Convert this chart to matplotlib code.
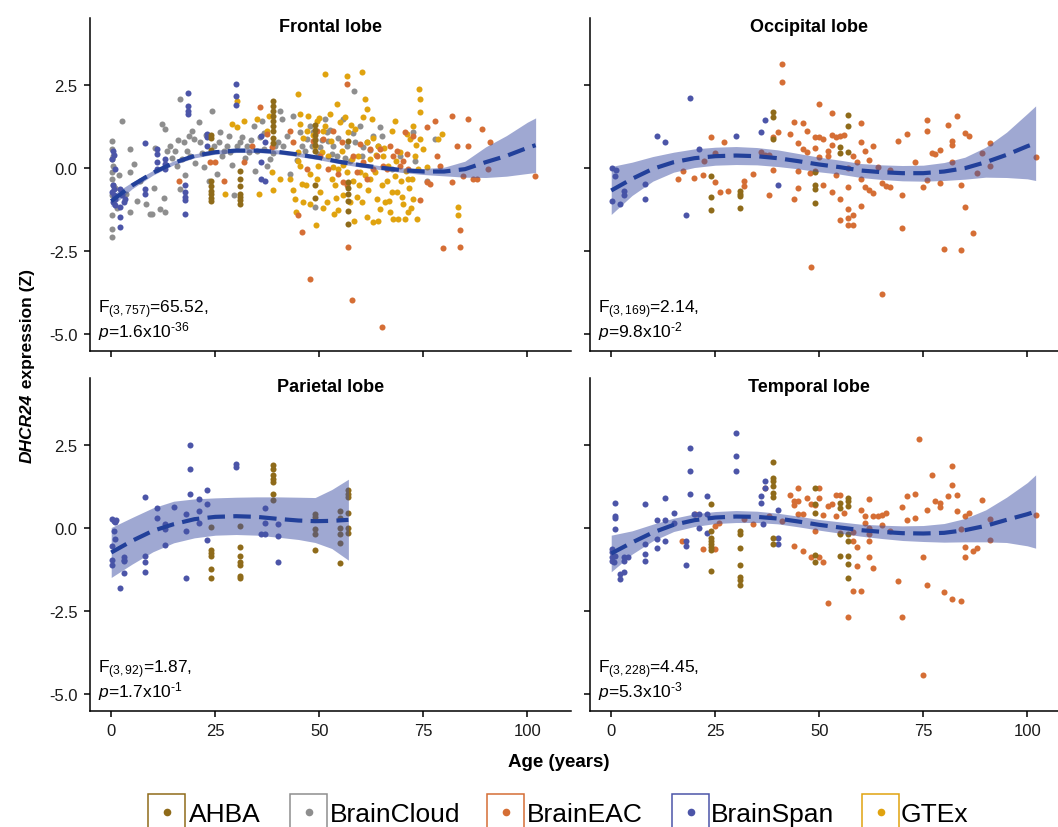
import numpy as np
import matplotlib.pyplot as plt
from matplotlib.patches import Rectangle
from matplotlib.lines import Line2D

plt.rcParams['font.family'] = 'Liberation Sans'
plt.rcParams['axes.unicode_minus'] = False
plt.rcParams['mathtext.fontset'] = 'custom'
plt.rcParams['mathtext.rm'] = 'Liberation Sans'
plt.rcParams['mathtext.it'] = 'Liberation Sans:italic'
plt.rcParams['mathtext.bf'] = 'Liberation Sans:bold'

datasets = ['AHBA', 'BrainCloud', 'BrainEAC', 'BrainSpan', 'GTEx']
colors = ['#8F6B1A', '#8E8E8E', '#D56E35', '#4C55A8', '#E0A30F']

# ---------------- Frontal lobe ----------------
frontal_span_age = [0.4, 0.6, 0.3, 0.8, 0.4, 0.7, 0.3, 0.6, 0.9, 0.5, 0.8, 2.0, 2.6, 3.0, 2.2, 2.0, 2.0, 3.2,
                    8, 8, 8, 11, 11, 11, 11, 13, 13, 13, 18.5, 18.5, 18.5, 18.5, 17.8, 17.8, 17.8, 17.8, 17.8,
                    23, 23, 23, 30, 30, 30, 36, 36, 36, 37, 37]
frontal_span_z = [0.50, 0.40, 0.27, -0.03, -0.53, -0.63, -0.73, -0.83, -0.93, -1.03, -1.13, -0.63, -0.83, -1.03,
                  -1.18, -1.48, -1.78, -0.93, 0.75, -0.63, -0.78, 0.57, 0.42, 0.17, -0.03, 0.27, 0.12, -0.03,
                  2.24, 1.87, 1.72, 1.62, -0.53, -0.73, -0.88, -0.98, -1.38, 1.02, 0.92, 0.67, 2.52, 2.17, 1.89,
                  0.97, 0.17, -0.33, 0.77, -0.38]
frontal_ahba_age = [24] * 9 + [31] * 7 + [39] * 9 + [49] * 8 + [57] * 7
frontal_ahba_z = [1.0, 0.9, 0.55, -0.4, -0.55, -0.7, -0.8, -0.9, -1.0,
                  -0.08, -0.33, -0.55, -0.78, -0.88, -0.98, -1.08,
                  2.0, 1.85, 1.7, 1.55, 1.4, 1.25, 1.1, 0.9, 0.75,
                  1.3, 1.15, 1.0, 0.85, 0.7, 0.5, -0.5, -0.9,
                  0.8, -0.43, -0.6, -0.8, -1.0, -1.3, -1.7]
frontal_cloud_age = [0.2, 0.3, 0.4, 0.2, 0.5, 0.3, 0.2, 0.4, 0.3, 0.2, 0.3, 0.2,
                     2.6, 4.6, 4.6, 4.6, 5.4, 9.2, 12.2, 13.0, 13.0, 13.4, 14.2, 15.4, 15.8, 16.6, 16.6, 17.0,
                     17.4, 18.2, 19.0, 19.4, 19.8, 21.0, 21.4, 22.3, 24.2, 24.6, 25.4, 25.8, 26.2, 27.0, 27.8,
                     28.6, 29.4, 30.2, 31.0, 31.4, 32.6, 33.0, 34.2, 35.0, 35.8, 36.2, 36.6, 37.4, 38.2, 39.4,
                     40.2, 40.6, 41.0, 41.4, 43.0, 43.8, 45.4, 45.8, 47.0, 47.8, 48.2, 48.6, 49.0, 49.0, 49.8,
                     50.2, 51.4, 51.8, 52.2, 53.0, 53.4, 54.2, 55.8, 56.6, 57.4, 58.3, 58.6, 59.8, 60.6, 61.4,
                     63.0, 64.2, 64.6, 65.0, 67.4, 69.4, 72.6, 73.0, 75.8, 77.8,
                     14.6, 16.0, 17.8, 18.6, 20.2, 21.8, 22.8, 23.4, 26.6, 28.2, 29.0, 32.2, 33.6, 34.6, 36.8,
                     38.8, 42.2, 44.6, 46.6, 50.6, 52.6, 54.6, 56.2, 58.0, 60.2, 62.2, 1.0, 1.4, 1.8, 3.6, 6.2,
                     7.0, 9.8, 10.6, 12.6, 8.4, 10.2, 11.8]
frontal_cloud_z = [0.82, 0.57, 0.37, 0.27, 0.07, -0.13, -0.33, -0.53, -0.83, -1.43, -1.83, -2.08,
                   1.42, 0.57, -0.13, -1.33, 0.12, -1.38, 1.32, 1.17, -1.33, 0.52, 0.67, 0.52, 0.07, 2.07, -0.63,
                   0.27, 0.77, 0.52, 0.37, 1.12, 0.87, 1.37, 0.77, 0.02, 1.72, 0.67, -0.18, 0.77, 1.07, 0.52,
                   0.67, 0.47, -0.83, 0.67, 0.77, 0.92, 0.67, 0.47, 1.27, 0.52, 0.92, 1.42, 0.57, 0.07, 0.27,
                   0.67, 0.77, 1.72, 1.47, 0.67, -0.18, 1.57, 1.07, 0.67, 0.87, 1.27, 0.67, 1.07, 0.87, -1.18,
                   0.42, 0.62, 1.47, 1.07, 0.82, 0.42, 0.67, 0.37, 1.47, 0.67, 0.22, 2.32, 0.77, 1.27, 0.62,
                   0.77, 0.97, 0.67, 1.22, 0.97, -0.03, 0.37, 1.07, 0.22, -0.38, 0.87,
                   0.30, 0.85, -0.20, 0.95, 0.15, 0.45, 1.00, -0.40, 0.35, 0.95, 0.10, 0.30, 0.85, -0.10, 1.05,
                   0.45, 0.95, 0.25, 0.50, 0.85, 1.15, 0.90, 0.30, 1.05, 0.35, 0.55, -0.60, -1.20, -0.20, -0.80,
                   -1.00, -0.40, -1.40, 0.60, -0.90, -1.10, -0.60, -1.25]
frontal_gtex_age = [29.0, 30.2, 30.2, 27.4, 31.8, 35.0, 35.4, 37.4, 37.8, 38.6, 39.0, 40.6, 43.0, 43.8, 44.2, 44.4,
                    45.0, 45.0, 45.4, 45.4, 45.4, 45.8, 46.2, 47.0, 47.4, 47.8, 47.8, 49.0, 49.2, 49.4, 49.5,
                    49.8, 50.2, 50.6, 51.0, 51.4, 51.4, 51.8, 52.2, 52.6, 53.0, 53.4, 53.8, 54.2, 54.6, 54.6,
                    55.0, 55.4, 55.8, 56.2, 56.6, 56.6, 57.0, 57.4, 57.8, 58.2, 58.6, 59.0, 59.4, 59.8, 60.2,
                    60.2, 60.6, 61.0, 61.4, 61.4, 61.5, 61.8, 62.2, 62.3, 62.6, 63.0, 63.4, 63.8, 64.2, 64.6,
                    65.0, 65.4, 65.8, 66.2, 66.6, 67.0, 67.4, 67.8, 68.2, 68.2, 68.6, 69.0, 69.4, 69.8, 70.2,
                    70.6, 71.0, 71.4, 71.4, 71.8, 72.2, 72.6, 72.6, 73.0, 73.4, 73.8, 74.0, 74.2, 74.2, 74.3,
                    75.0, 75.8, 78.6, 79.4, 83.4, 83.4,
                    44.8, 46.8, 48.4, 50.8, 52.8, 54.0, 55.6, 57.6, 59.6, 61.0, 62.8, 64.0, 65.6, 66.8, 68.4,
                    69.6, 70.8, 72.0, 73.2, 46.0, 50.0, 53.6, 58.4, 63.6, 67.6, 71.6]
frontal_gtex_z = [1.32, 2.02, 1.22, -0.78, 1.42, 1.47, -0.78, 1.12, 1.57, -0.13, -0.68, -0.33, -0.33, -0.68,
                  -0.93, -1.33, 2.22, 0.47, 1.62, 1.32, 0.07, -0.48, -1.03, 1.12, 1.57, -0.18, -1.08, 0.67,
                  -1.73, 1.42, -0.33, 0.07, -0.73, 0.47, 1.12, 2.82, 1.27, -1.03, 0.37, 1.62, -0.33, 0.02,
                  -0.53, 1.92, -0.03, -1.28, 1.37, 0.52, -0.83, 1.52, 2.77, -0.13, 1.07, -1.03, 0.27, -0.38,
                  1.17, -0.88, 0.37, -0.13, 2.87, -1.03, 1.52, 2.07, 1.77, 0.77, -1.48, -0.68, 0.27, -0.33,
                  1.47, -1.63, -0.13, -0.93, 0.67, -1.23, -0.53, 0.37, -1.03, -0.38, 0.07, -1.33, -0.73, -1.53,
                  1.42, -0.23, -0.73, -1.53, 0.47, -0.88, -1.08, -1.53, 1.02, -0.33, -1.33, 0.87, -0.33, 1.27,
                  -0.93, 0.37, -1.53, -0.03, 2.37, 2.07, 1.67, 0.87, 0.57, 0.02, 0.87, 1.02, -1.18, -1.43,
                  0.20, -0.50, 1.00, -1.20, 0.80, -0.90, 0.10, 1.30, -0.50, -0.20, 0.90, -1.60, 0.60, -1.00,
                  0.20, -0.40, -0.10, -1.20, 0.70, 0.90, 1.50, -1.40, -1.60, 0.40, 1.10, -0.60]
frontal_eac_age = [16.2, 23.8, 25.0, 27.0, 31.8, 33.8, 35.8, 37.4, 38.6, 43.0, 43.8, 45.0, 45.8, 47.0, 47.8, 48.6,
                   49.4, 50.2, 51.0, 52.2, 53.4, 54.6, 55.4, 55.8, 56.6, 56.6, 57.0, 57.8, 58.2, 59.0, 59.8,
                   60.6, 61.4, 62.2, 63.0, 63.8, 64.6, 65.0, 65.4, 66.2, 67.0, 67.8, 68.6, 69.4, 70.2, 70.6,
                   71.0, 71.4, 72.6, 74.2, 75.8, 75.8, 76.6, 77.8, 78.2, 79.0, 79.8, 81.8, 81.8, 83.0, 83.8,
                   83.8, 84.6, 85.8, 85.8, 87.0, 87.8, 89.0, 90.6, 91.0, 101.8]
frontal_eac_z = [-0.38, 0.17, 0.17, -0.38, 0.17, 0.67, 1.82, 1.02, 0.62, 1.12, 0.77, -1.43, -1.93, -0.03, -3.33,
                 0.82, 1.12, 0.37, 0.87, -0.03, 1.12, -0.18, 0.77, -0.43, 2.52, -0.53, -2.38, -3.98, 0.37, -0.13,
                 0.72, 0.17, -0.33, 0.57, -0.03, 0.37, 0.57, -4.78, 0.07, -0.03, 0.67, 0.37, 0.52, 0.07, 0.22,
                 1.07, 0.42, -0.03, 0.97, -0.98, 1.22, -0.43, -0.48, 1.42, 0.37, 0.07, -2.41, 1.55, -0.43, 0.67,
                 -1.88, -2.38, -0.23, 1.47, 0.67, -0.33, -0.33, 1.17, -0.03, 0.77, -0.23]
frontal_fit_age = [0, 5, 10, 15, 20, 25, 30, 35, 40, 45, 50, 55, 60, 65, 70, 75, 80, 85, 90, 95, 100, 102]
frontal_fit_z = [-1.0, -0.53, -0.15, 0.15, 0.36, 0.47, 0.52, 0.52, 0.48, 0.40, 0.30, 0.18, 0.08, 0.0, -0.07,
                 -0.11, -0.11, -0.04, 0.17, 0.36, 0.60, 0.68]
frontal_fit_lo = [-1.17, -0.63, -0.22, 0.09, 0.30, 0.41, 0.46, 0.46, 0.42, 0.34, 0.24, 0.12, 0.02, -0.06, -0.14,
                  -0.20, -0.24, -0.28, -0.29, -0.25, -0.17, -0.14]
frontal_fit_hi = [-0.83, -0.43, -0.08, 0.21, 0.42, 0.53, 0.58, 0.58, 0.54, 0.46, 0.36, 0.24, 0.14, 0.06, 0.00,
                  -0.02, 0.02, 0.20, 0.63, 0.97, 1.37, 1.50]

# ---------------- Occipital lobe ----------------
occipital_span_age = [0.3, 1.1, 1.0, 0.3, 2.0, 3.0, 3.1, 8.0, 8.2, 11.1, 13.0, 18.0, 19.0, 21.0, 30.0, 36.0, 37.0, 40.0]
occipital_span_z = [-0.01, -0.05, -0.23, -1.01, -1.08, -0.71, -0.81, -0.48, -0.95, 0.95, 0.77, -1.41, 2.09, 0.57,
                    0.97, 1.09, 1.45, -0.53]
occipital_ahba_age = [24, 24, 24, 31, 31, 31, 31, 39, 39, 39, 49, 49, 49, 49, 55, 55, 57, 57, 57]
occipital_ahba_z = [-0.25, -0.88, -1.26, -0.71, -0.78, -0.86, -1.2, 1.67, 1.52, 0.87, -0.13, -0.53, -0.63, -1.05,
                    0.64, 0.45, 1.6, 1.27, 0.47]
occipital_eac_age = [16.0, 17.2, 20.0, 22.0, 22.2, 24.0, 25.0, 25.0, 26.1, 27.0, 28.1, 32.0, 32.0, 34.0, 36.0, 37.0,
                     38.0, 38.0, 39.0, 39.0, 40.1, 41.0, 41.0, 43.0, 44.0, 44.0, 45.0, 45.0, 45.0, 46.0, 46.0,
                     47.0, 47.0, 47.8, 48.0, 49.0, 49.0, 49.0, 50.0, 50.0, 50.0, 51.0, 51.0, 52.0, 52.0, 53.0,
                     53.0, 53.0, 53.0, 54.0, 54.0, 55.0, 55.0, 55.0, 56.0, 57.0, 57.0, 57.0, 57.0, 57.0, 58.0,
                     58.0, 58.0, 59.0, 60.0, 60.0, 60.0, 60.0, 61.0, 61.0, 62.0, 62.0, 63.0, 63.0, 64.0, 65.0,
                     65.0, 66.0, 67.0, 67.0, 69.0, 70.0, 70.0, 71.0, 73.0, 75.0, 75.9, 75.9, 75.9, 77.0, 77.9,
                     79.0, 79.0, 80.0, 81.0, 81.9, 81.9, 81.9, 83.0, 84.0, 84.0, 85.0, 85.0, 86.0, 87.0, 88.0,
                     89.0, 91.0, 91.0, 102.0]
occipital_eac_z = [-0.33, -0.10, -0.30, -0.20, 0.22, 0.94, 0.44, -0.43, -0.73, 0.79, -0.69, -0.38, -0.56, -0.17,
                   0.49, 0.40, 0.40, -0.81, 0.94, -0.05, 1.07, 3.13, 2.59, 1.02, 1.37, -0.95, 0.74, -0.08, -0.60,
                   1.34, 0.57, 1.10, 0.47, -0.16, -2.98, 0.94, 0.60, -0.10, 1.91, 0.94, 0.32, 0.87, -0.50, 0.52,
                   0.37, 1.64, 0.99, 0.70, -0.73, 0.94, -0.20, 0.97, -0.93, -1.58, 0.99, -0.01, -0.58, -1.23,
                   -1.50, -1.71, 0.37, -1.41, -1.71, 0.19, 1.34, 0.79, -0.33, -1.16, 0.52, -0.58, 0.25, -0.68,
                   0.67, -0.76, 0.02, -0.45, -3.80, -0.56, -0.06, -0.58, 0.80, -0.83, -1.81, 1.02, 0.19, -0.58,
                   1.44, 1.12, -0.36, 0.44, 0.42, 0.55, -0.46, -2.43, 1.29, 0.80, 0.70, 0.17, 1.55, -0.50, -2.48,
                   1.04, -1.18, 0.97, -1.95, -0.15, 0.45, 0.74, 0.07, 0.32]
occipital_fit_age = frontal_fit_age
occipital_fit_z = [-0.68, -0.33, -0.03, 0.17, 0.29, 0.35, 0.37, 0.35, 0.29, 0.20, 0.10, 0.02, -0.08, -0.13, -0.16,
                   -0.16, -0.11, -0.01, 0.17, 0.39, 0.65, 0.74]
occipital_fit_lo = [-1.40, -0.83, -0.40, -0.13, 0.01, 0.08, 0.10, 0.09, 0.04, -0.03, -0.12, -0.19, -0.29, -0.35,
                    -0.39, -0.40, -0.38, -0.34, -0.28, -0.29, -0.33, -0.38]
occipital_fit_hi = [0.04, 0.17, 0.34, 0.47, 0.57, 0.62, 0.64, 0.61, 0.54, 0.43, 0.32, 0.23, 0.13, 0.09, 0.07, 0.08,
                    0.16, 0.32, 0.62, 1.07, 1.63, 1.86]

# ---------------- Parietal lobe ----------------
parietal_span_age = [0.3, 0.6, 1.0, 1.2, 0.6, 0.8, 0.3, 0.3, 0.3, 3.0, 3.0, 3.1, 3.0, 2.0, 8, 8, 8, 8, 11, 11, 13,
                     13, 13, 15, 18, 18, 18, 19, 19, 19, 21, 21, 21, 23, 23, 23, 30, 30, 36, 37, 37, 37, 40, 40, 40]
parietal_span_z = [0.26, 0.21, 0.19, 0.23, -0.09, -0.34, -0.54, -0.96, -1.12, -0.89, -0.97, -1.01, -1.36, -1.82,
                   0.93, -0.86, -1.02, -1.34, 0.61, 0.31, 0.11, -0.04, -0.52, 0.64, 0.41, -0.09, -1.51, 2.49, 1.78,
                   1.01, 0.86, 0.51, 0.14, 1.13, 0.73, -0.36, 1.91, 1.83, -0.19, 0.61, 0.14, -0.19, 0.11, -0.24,
                   -1.04]
parietal_ahba_age = [24] * 6 + [31] * 7 + [39] * 7 + [49] * 5 + [55] * 6 + [57] * 6
parietal_ahba_z = [0.04, -0.66, -0.76, -0.86, -1.24, -1.52,
                   0.06, -0.57, -0.84, -1.02, -1.12, -1.44, -1.51,
                   1.88, 1.78, 1.58, 1.48, 1.38, 1.01, 0.83,
                   0.43, 0.33, -0.04, -0.17, -0.67,
                   0.51, 0.31, 0.01, -0.17, -0.44, -1.07,
                   1.13, 1.03, 0.93, 0.46, 0.01, -0.14]
parietal_fit_age = [0, 5, 10, 15, 20, 25, 30, 35, 40, 45, 49, 53, 57]
parietal_fit_z = [-0.74, -0.39, -0.09, 0.11, 0.26, 0.33, 0.35, 0.33, 0.27, 0.22, 0.20, 0.21, 0.24]
parietal_fit_lo = [-1.49, -1.09, -0.72, -0.45, -0.30, -0.22, -0.20, -0.22, -0.28, -0.35, -0.44, -0.62, -0.97]
parietal_fit_hi = [0.01, 0.31, 0.60, 0.80, 0.87, 0.90, 0.92, 0.93, 0.93, 0.92, 0.91, 1.15, 1.46]

# ---------------- Temporal lobe ----------------
temporal_span_age = [0.3, 0.3, 0.3, 0.3, 0.6, 1.0, 1.0, 1.0, 1.0, 1.0, 2.0, 2.0, 3.0, 3.0, 3.1, 4.0, 8, 8, 8, 8,
                     11, 11, 11, 13, 13, 13, 15, 15, 18, 18, 18, 19, 19, 19, 20, 21, 21, 23, 23, 23, 30, 30, 30,
                     36, 36, 36.4, 37, 37, 40, 40, 40]
temporal_span_z = [-0.64, -0.74, -0.89, -0.99, -1.04, -0.84, 0.31, 0.36, 0.74, -0.04, -1.39, -1.54, -0.89, -0.99,
                   -1.34, -0.89, 0.71, -0.79, -0.99, -0.49, 0.24, -0.34, -0.61, 0.91, 0.24, -0.39, 0.46, 0.16,
                   -0.39, -0.54, -1.11, 2.41, 1.71, 1.01, 0.41, 0.41, 0.01, 0.96, 0.41, -0.14, 2.86, 2.16, 1.71,
                   0.96, 0.76, 0.11, 1.41, 1.21, 0.53, -0.29, -0.49]
temporal_ahba_age = [24] * 8 + [31] * 7 + [39] * 8 + [49] * 5 + [55] * 4 + [57] * 8
temporal_ahba_z = [0.73, -0.09, -0.29, -0.39, -0.49, -0.59, -0.66, -1.29,
                   -0.09, -0.19, -0.62, -1.12, -1.47, -1.57, -1.71,
                   1.98, 1.51, 1.41, 1.26, 1.06, 0.93, -0.29, -0.49,
                   1.21, 0.71, 0.46, -0.81, -1.04,
                   0.76, 0.61, -0.19, -0.84,
                   0.89, 0.81, 0.66, -0.19, -0.39, -0.84, -1.09, -1.51]
temporal_eac_age = [17.0, 20.2, 22.0, 25.0, 25.0, 26.0, 32.0, 34.0, 37.0, 38.0, 41.0, 43.0, 44.0, 44.0, 44.0, 45.0,
                    45.0, 45.0, 46.0, 46.0, 47.0, 48.0, 48.0, 49.0, 49.0, 50.0, 50.0, 50.0, 51.0, 51.0, 52.0,
                    52.0, 53.0, 54.0, 54.0, 55.0, 55.0, 56.0, 57.0, 58.0, 58.0, 58.0, 59.0, 59.0, 60.0, 60.0,
                    61.0, 61.0, 62.0, 62.0, 62.0, 62.0, 62.0, 63.0, 63.0, 64.0, 65.0, 65.0, 66.0, 67.0, 69.0,
                    70.0, 70.0, 71.0, 71.0, 73.0, 73.0, 74.0, 75.0, 75.0, 75.9, 75.9, 77.0, 77.9, 79.0, 79.0,
                    80.0, 81.0, 81.9, 81.9, 81.9, 83.0, 83.0, 84.0, 84.0, 85.0, 85.0, 85.0, 86.0, 87.0, 88.0,
                    89.0, 91.0, 91.0, 102.0]
temporal_eac_z = [-0.39, 0.41, -0.64, 0.06, -0.64, 0.16, 0.26, 0.13, 1.21, 0.36, 0.21, 0.99, 0.81, 0.69, -0.54,
                  1.19, 0.81, 0.43, 0.43, -0.71, 0.89, 0.73, -0.89, 0.69, -0.09, 1.19, 0.91, -0.89, 0.39, -1.04,
                  0.66, -2.27, 0.73, 0.99, 0.36, 0.99, -0.14, 0.46, -2.67, -0.11, -0.39, -1.91, -0.59, -1.14,
                  0.53, -1.91, 0.36, 0.16, 0.01, -0.19, -0.39, -0.89, 0.86, 0.36, -1.21, 0.36, 0.39, 0.09, 0.44,
                  -0.09, -1.61, 0.64, -2.69, 0.96, 0.23, 1.01, 0.31, 2.67, -0.87, -4.42, 0.53, -1.71, 1.58, 0.81,
                  0.76, 0.64, -1.94, 0.96, 1.86, 1.28, -2.14, 0.98, 0.51, -0.04, -2.21, 0.36, -0.57, -0.89, 0.46,
                  -0.71, -0.62, 0.84, 0.26, -0.36, 0.38]
temporal_fit_age = frontal_fit_age
temporal_fit_z = [-0.77, -0.44, -0.14, 0.09, 0.23, 0.31, 0.34, 0.33, 0.28, 0.19, 0.09, 0.01, -0.07, -0.12, -0.16,
                  -0.17, -0.15, -0.07, 0.06, 0.24, 0.41, 0.49]
temporal_fit_lo = [-1.32, -0.79, -0.39, -0.11, 0.04, 0.13, 0.16, 0.16, 0.12, 0.03, -0.07, -0.16, -0.25, -0.32,
                   -0.38, -0.41, -0.43, -0.42, -0.42, -0.44, -0.54, -0.61]
temporal_fit_hi = [-0.22, -0.09, 0.11, 0.29, 0.42, 0.49, 0.52, 0.50, 0.44, 0.35, 0.25, 0.18, 0.11, 0.08, 0.06,
                   0.07, 0.13, 0.28, 0.54, 0.92, 1.36, 1.59]

panel_titles = ['Frontal lobe', 'Occipital lobe', 'Parietal lobe', 'Temporal lobe']
# U+2010 hyphen keeps the short dash of the original exponents
panel_stats = [(r'F$_{(3,757)}$=65.52,', '$p$=1.6x10$^{\u201036}$'),
               (r'F$_{(3,169)}$=2.14,', '$p$=9.8x10$^{\u20102}$'),
               (r'F$_{(3,92)}$=1.87,', '$p$=1.7x10$^{\u20101}$'),
               (r'F$_{(3,228)}$=4.45,', '$p$=5.3x10$^{\u20103}$')]

panel_points = [
    {'BrainCloud': (frontal_cloud_age, frontal_cloud_z), 'GTEx': (frontal_gtex_age, frontal_gtex_z),
     'BrainEAC': (frontal_eac_age, frontal_eac_z), 'BrainSpan': (frontal_span_age, frontal_span_z),
     'AHBA': (frontal_ahba_age, frontal_ahba_z)},
    {'BrainEAC': (occipital_eac_age, occipital_eac_z), 'BrainSpan': (occipital_span_age, occipital_span_z),
     'AHBA': (occipital_ahba_age, occipital_ahba_z)},
    {'BrainSpan': (parietal_span_age, parietal_span_z), 'AHBA': (parietal_ahba_age, parietal_ahba_z)},
    {'BrainEAC': (temporal_eac_age, temporal_eac_z), 'BrainSpan': (temporal_span_age, temporal_span_z),
     'AHBA': (temporal_ahba_age, temporal_ahba_z)},
]
panel_fits = [
    (frontal_fit_age, frontal_fit_z, frontal_fit_lo, frontal_fit_hi),
    (occipital_fit_age, occipital_fit_z, occipital_fit_lo, occipital_fit_hi),
    (parietal_fit_age, parietal_fit_z, parietal_fit_lo, parietal_fit_hi),
    (temporal_fit_age, temporal_fit_z, temporal_fit_lo, temporal_fit_hi),
]

W, H = 1058, 828
fig = plt.figure(figsize=(W / 100, H / 100), dpi=100)


def px_box(x0, y0, x1, y1):
    return [x0 / W, 1 - y1 / H, (x1 - x0) / W, (y1 - y0) / H]


boxes = [px_box(90, 19, 571, 352), px_box(590, 19, 1071, 352),
         px_box(90, 379, 571, 712), px_box(590, 379, 1071, 712)]
title_x = [0.5, 0.455, 0.5, 0.455]
color_of = dict(zip(datasets, colors))

for i, box in enumerate(boxes):
    ax = fig.add_axes(box)
    ax.set_xlim(-5.1, 110.5)
    ax.set_ylim(-5.5, 4.5)
    for s in ['top', 'right']:
        ax.spines[s].set_visible(False)
    for s in ['left', 'bottom']:
        ax.spines[s].set_linewidth(1.1)
    ax.set_xticks([0, 25, 50, 75, 100])
    ax.set_yticks([-5, -2.5, 0, 2.5])
    ax.set_yticklabels(['-5.0', '-2.5', '0.0', '2.5'])
    ax.tick_params(length=4, width=1.1, labelsize=12, pad=5, labelcolor='#1a1a1a')
    if i < 2:
        ax.tick_params(labelbottom=False)
    if i % 2 == 1:
        ax.tick_params(labelleft=False)

    for name, (ages, zs) in panel_points[i].items():
        ax.scatter(ages, zs, s=19, color=color_of[name], linewidths=0, zorder=2)

    fa, fz, flo, fhi = panel_fits[i]
    ax.fill_between(fa, flo, fhi, color='#4152A6', alpha=0.5, linewidth=0, zorder=3)
    ax.plot(fa, fz, color='#22409A', lw=3.0, ls=(0, (4.2, 2.0)), zorder=4)

    ax.text(title_x[i], 0.961, panel_titles[i], transform=ax.transAxes, ha='center', va='baseline',
            fontsize=13, fontweight='bold')
    ax.text(0.017, 0.116, panel_stats[i][0], transform=ax.transAxes, ha='left', va='baseline', fontsize=12.5)
    ax.text(0.017, 0.045, panel_stats[i][1], transform=ax.transAxes, ha='left', va='baseline', fontsize=12.5)

fig.text(559 / W, 1 - 763 / H, 'Age (years)', ha='center', va='center', fontsize=13.5, fontweight='bold')

# y label: italic gene name followed by plain bold text
renderer = fig.canvas.get_renderer()
t1 = fig.text(0, 0, 'DHCR24', rotation=90, rotation_mode='anchor', ha='left', va='baseline',
              fontsize=12.5, fontweight='bold', fontstyle='italic')
t2 = fig.text(0, 0, ' expression (Z)', rotation=90, rotation_mode='anchor', ha='left', va='baseline',
              fontsize=12.5, fontweight='bold')
h1 = t1.get_window_extent(renderer).height
h2 = t2.get_window_extent(renderer).height
y_start = (H - 366) - (h1 + h2) / 2
t1.set_position((32 / W, y_start / H))
t2.set_position((32 / W, (y_start + h1) / H))

# legend
legend_pos = [(148, 189), (290, 330), (487, 527), (672, 711), (862, 901)]
for name, col, (bx, tx) in zip(datasets, colors, legend_pos):
    fig.add_artist(Rectangle((bx / W, 1 - 840 / H), 37 / W, 45 / H, transform=fig.transFigure,
                             facecolor='white', edgecolor=col, linewidth=1.1, clip_on=False))
    fig.add_artist(Line2D([(bx + 18.5) / W], [1 - 813 / H], marker='o', markersize=5.5, color=col,
                          markeredgewidth=0, transform=fig.transFigure))
    fig.text(tx / W, 1 - 815 / H, name, ha='left', va='center', fontsize=19)

fig.savefig('out.png', dpi=100)
